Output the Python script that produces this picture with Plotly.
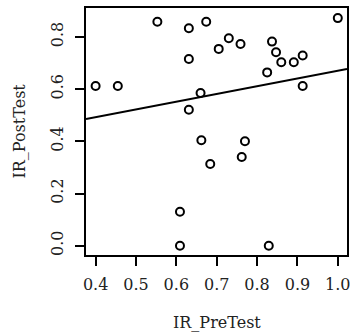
import plotly.graph_objects as go
import numpy as np

pre = [1.0, 0.674, 0.631, 0.730, 0.705, 0.759, 0.837, 0.847, 0.860, 0.891,
       0.913, 0.825, 0.913, 0.631, 0.660, 0.631, 0.662, 0.770, 0.762, 0.684,
       0.553, 0.400, 0.455, 0.609, 0.609, 0.829]
post = [0.872, 0.858, 0.833, 0.795, 0.754, 0.773, 0.782, 0.741, 0.703, 0.703,
        0.729, 0.664, 0.612, 0.715, 0.585, 0.521, 0.404, 0.400, 0.340, 0.313,
        0.858, 0.612, 0.612, 0.130, 0.0, 0.0]

fit_intercept = 0.374
fit_slope = 0.296

xtick_vals = [0.4, 0.5, 0.6, 0.7, 0.8, 0.9, 1.0]
ytick_vals = [0.0, 0.2, 0.4, 0.6, 0.8]

xr = [0.3762, 1.0228]
yr = [-0.0356, 0.9107]

font_family = "DejaVu Serif"

fig = go.Figure()
fig.add_trace(go.Scatter(
    x=pre, y=post, mode="markers",
    marker=dict(symbol="circle-open", size=8, color="black", line=dict(width=2, color="black")),
    showlegend=False, hoverinfo="skip"))

lx = np.array(xr)
fig.add_trace(go.Scatter(
    x=lx, y=fit_intercept + fit_slope * lx, mode="lines",
    line=dict(color="black", width=2), showlegend=False, hoverinfo="skip"))

axis_common = dict(
    showline=True, mirror=True, linecolor="black", linewidth=2,
    ticks="outside", ticklen=9, tickwidth=2, tickcolor="black",
    showgrid=False, zeroline=False,
    tickfont=dict(family=font_family, size=16, color="#222"),
)

fig.update_layout(
    width=356, height=335,
    margin=dict(l=86, r=6, t=8, b=80),
    paper_bgcolor="white", plot_bgcolor="white",
    xaxis=dict(range=xr, tickvals=xtick_vals, ticktext=[f"{v:.1f}" for v in xtick_vals],
               ticklabelstandoff=5, **axis_common),
    yaxis=dict(range=yr, tickvals=ytick_vals, ticktext=[f"{v:.1f}" for v in ytick_vals],
               tickangle=-90, ticklabelstandoff=6, **axis_common),
    annotations=[
        dict(text="IR_PreTest", xref="paper", yref="paper", x=0.5, y=0,
             xanchor="center", yanchor="middle", yshift=-67, showarrow=False,
             font=dict(family=font_family, size=16, color="#222")),
        dict(text="IR_PostTest", xref="paper", yref="paper", x=0, y=0.5,
             xanchor="center", yanchor="middle", xshift=-67, textangle=-90, showarrow=False,
             font=dict(family=font_family, size=16, color="#222")),
    ],
)

fig.write_html("out.html")
